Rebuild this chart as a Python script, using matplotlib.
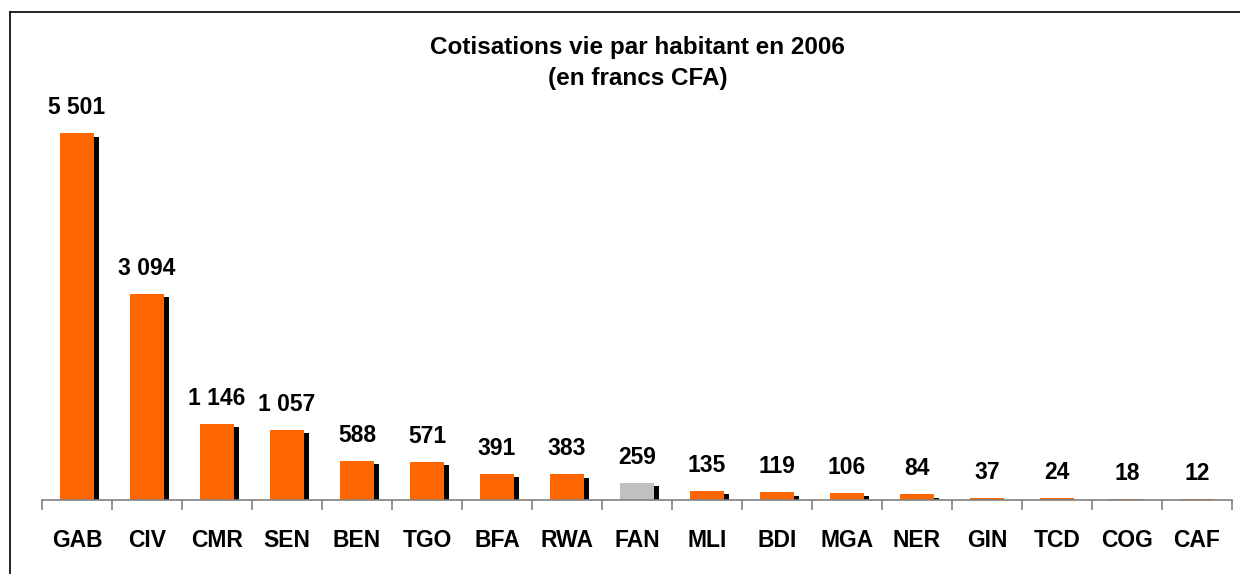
import matplotlib
matplotlib.use("Agg")
import matplotlib.pyplot as plt
from matplotlib.lines import Line2D
import numpy as np

pays = ["GAB", "CIV", "CMR", "SEN", "BEN", "TGO", "BFA", "RWA", "FAN",
        "MLI", "BDI", "MGA", "NER", "GIN", "TCD", "COG", "CAF"]
cotisations = [5501, 3094, 1146, 1057, 588, 571, 391, 383, 259,
               135, 119, 106, 84, 37, 24, 18, 12]
titre = "Cotisations vie par habitant en 2006\n(en francs CFA)"

plt.rcParams["font.family"] = ["Liberation Sans", "DejaVu Sans"]

fig = plt.figure(figsize=(12.4, 5.74), dpi=100)
ax = fig.add_axes([0.0339, 0.1289, 0.9596, 0.6969])

x = np.arange(len(pays))
couleurs = ["#C0C0C0" if p == "FAN" else "#FF6600" for p in pays]

# ombre noire décalée
ombre = [max(v - 52, 0) for v in cotisations]
ax.bar(x + 0.075, ombre, width=0.49, color="black", zorder=1)
ax.bar(x, cotisations, width=0.49, color=couleurs, zorder=2)

for xi, v in zip(x, cotisations):
    ax.annotate(f"{v:,}".replace(",", " "), (xi, v), xytext=(0, 14),
                textcoords="offset pixels", ha="center", va="bottom",
                fontsize=16.5, fontweight="bold")

ax.set_xlim(-0.5, len(pays) - 0.5)
ax.set_ylim(0, 6000)
ax.set_xticks(x)
ax.set_xticklabels(pays, fontsize=16.5, fontweight="bold")
ax.set_xticks(np.arange(-0.5, len(pays)), minor=True)
ax.tick_params(axis="x", which="major", length=0, pad=21)
ax.tick_params(axis="x", which="minor", length=7, color="#808080", width=1.2)
ax.set_yticks([])
for s in ["top", "right", "left"]:
    ax.spines[s].set_visible(False)
ax.spines["bottom"].set_color("#808080")
ax.spines["bottom"].set_linewidth(1.2)

fig.text(0.514, 0.890, titre, ha="center", va="center", fontsize=17.5,
         fontweight="bold", linespacing=1.45)

# cadre
fig.add_artist(Line2D([10 / 1240, 10 / 1240], [0, 1 - 12 / 574], color="black", lw=1.2))
fig.add_artist(Line2D([10 / 1240, 1], [1 - 12 / 574, 1 - 12 / 574], color="black", lw=1.2))

fig.savefig("out.png", dpi=100)
